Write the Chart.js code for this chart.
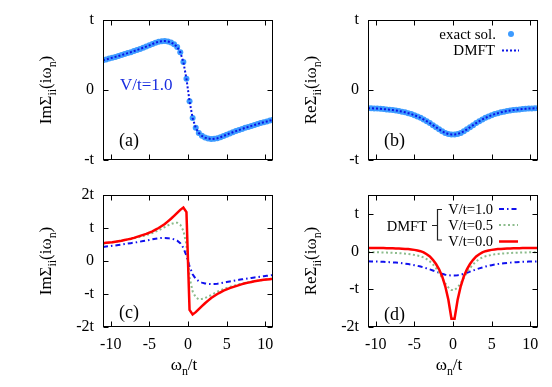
<!DOCTYPE html>
<html><head><meta charset="utf-8">
<script src="https://cdn.jsdelivr.net/npm/chart.js@4.4.1/dist/chart.umd.min.js"></script>
<style>
html,body{margin:0;padding:0;background:#fff;overflow:hidden;}
#wrap{position:relative;width:552px;height:387px;overflow:hidden;background:#fff;}
canvas{position:absolute;left:0;top:0;}
</style></head><body>
<div id="wrap">
<canvas id="ca" width="552" height="387"></canvas>
<canvas id="cb" width="552" height="387"></canvas>
<canvas id="cc" width="552" height="387"></canvas>
<canvas id="cd" width="552" height="387"></canvas>
</div>
<script>
// ---- data (Matsubara frequencies omega_n / t) ----
const omega = [-11.0,-10.6,-10.2,-9.8,-9.4,-9.0,-8.6,-8.2,-7.8,-7.4,-7.0,-6.6,-6.2,-5.8,-5.4,-5.0,-4.6,-4.2,-3.8,-3.4,-3.0,-2.6,-2.2,-1.8,-1.4,-1.0,-0.6,-0.2,
  0.2,0.6,1.0,1.4,1.8,2.2,2.6,3.0,3.4,3.8,4.2,4.6,5.0,5.4,5.8,6.2,6.6,7.0,7.4,7.8,8.2,8.6,9.0,9.4,9.8,10.2,10.6,11.0];
// V/t = 1.0
const imSigmaV10 = [0.426,0.437,0.449,0.461,0.473,0.486,0.499,0.513,0.527,0.541,0.556,0.571,0.587,0.603,0.62,0.638,0.657,0.675,0.69,0.698,0.70,0.693,0.68,0.655,0.615,0.54,0.40,0.16,
  -0.16,-0.40,-0.54,-0.615,-0.655,-0.68,-0.693,-0.70,-0.698,-0.69,-0.675,-0.657,-0.638,-0.62,-0.603,-0.587,-0.571,-0.556,-0.541,-0.527,-0.513,-0.499,-0.486,-0.473,-0.461,-0.449,-0.437,-0.426];
const reSigmaV10 = [-0.259,-0.261,-0.263,-0.266,-0.269,-0.273,-0.277,-0.281,-0.287,-0.293,-0.30,-0.309,-0.319,-0.331,-0.344,-0.36,-0.378,-0.398,-0.421,-0.446,-0.473,-0.502,-0.532,-0.562,-0.59,-0.613,-0.628,-0.635,
  -0.635,-0.628,-0.613,-0.59,-0.562,-0.532,-0.502,-0.473,-0.446,-0.421,-0.398,-0.378,-0.36,-0.344,-0.331,-0.319,-0.309,-0.30,-0.293,-0.287,-0.281,-0.277,-0.273,-0.269,-0.266,-0.263,-0.261,-0.259];
// V/t = 0.5
const imSigmaV05 = [0.53,0.542,0.554,0.567,0.581,0.596,0.612,0.629,0.647,0.666,0.686,0.707,0.731,0.757,0.785,0.815,0.85,0.89,0.93,0.98,1.03,1.08,1.12,1.15,1.16,1.10,0.92,0.50,
  -0.50,-0.92,-1.10,-1.16,-1.15,-1.12,-1.08,-1.03,-0.98,-0.93,-0.89,-0.85,-0.815,-0.785,-0.757,-0.731,-0.707,-0.686,-0.666,-0.647,-0.629,-0.612,-0.596,-0.581,-0.567,-0.554,-0.542,-0.53];
const reSigmaV05 = [-0.015,-0.016,-0.018,-0.020,-0.022,-0.024,-0.027,-0.030,-0.034,-0.038,-0.043,-0.048,-0.055,-0.062,-0.072,-0.09,-0.105,-0.125,-0.155,-0.20,-0.26,-0.34,-0.44,-0.56,-0.70,-0.84,-0.95,-1.02,
  -1.02,-0.95,-0.84,-0.70,-0.56,-0.44,-0.34,-0.26,-0.20,-0.155,-0.125,-0.105,-0.09,-0.072,-0.062,-0.055,-0.048,-0.043,-0.038,-0.034,-0.030,-0.027,-0.024,-0.022,-0.020,-0.018,-0.016,-0.015];
// V/t = 0.0
const imSigmaV00 = [0.54,0.55,0.56,0.57,0.585,0.60,0.615,0.635,0.655,0.675,0.70,0.73,0.76,0.79,0.82,0.86,0.90,0.95,1.00,1.06,1.12,1.20,1.28,1.37,1.46,1.55,1.62,1.48,
  -1.48,-1.62,-1.55,-1.46,-1.37,-1.28,-1.20,-1.12,-1.06,-1.00,-0.95,-0.90,-0.86,-0.82,-0.79,-0.76,-0.73,-0.70,-0.675,-0.655,-0.635,-0.615,-0.60,-0.585,-0.57,-0.56,-0.55,-0.54];
const reSigmaV00 = [0.098,0.097,0.096,0.095,0.094,0.092,0.09,0.088,0.086,0.083,0.08,0.075,0.07,0.065,0.055,0.045,0.03,0.01,-0.02,-0.07,-0.13,-0.22,-0.33,-0.47,-0.66,-0.92,-1.28,-1.78,
  -1.78,-1.28,-0.92,-0.66,-0.47,-0.33,-0.22,-0.13,-0.07,-0.02,0.01,0.03,0.045,0.055,0.065,0.07,0.075,0.08,0.083,0.086,0.088,0.09,0.092,0.094,0.095,0.096,0.097,0.098];

const xTicks = [-10,-5,0,5,10];
const xTickLabels = ['-10','-5','0','5','10'];
const yTicksAB = [-1,0,1];
const yTickLabelsAB = ['-t','0','t'];
const yTicksC = [-2,-1,0,1,2];
const yTickLabelsC = ['-2t','-t','0','t','2t'];
const yTicksD = [-2,-1,0,1];
const yTickLabelsD = ['-2t','-t','0','t'];
const legendB = ['exact sol.','DMFT'];
const legendD = ['V/t=1.0','V/t=0.5','V/t=0.0'];
const legendDGroup = 'DMFT';
const annotationA = 'V/t=1.0';

// ---- styling ----
const SERIF = '"Liberation Serif","Times New Roman","DejaVu Serif",serif';
Chart.defaults.font.family = SERIF;
Chart.defaults.color = '#000';
const C_EXACT = '#3d9bff', C_DMFT = '#0a14e6', C_RED = '#ff0000', C_GREEN = '#8cbc8c', C_BLUE = '#1010ee';

function pts(arr){ return omega.map((w,i)=>({x:w,y:arr[i]})); }

function drawRuns(ctx, runs, size){
  let x = 0;
  runs.forEach(r=>{
    const s = r.sub ? size*0.7 : size;
    ctx.font = s + 'px ' + SERIF;
    ctx.fillText(r.t, x, r.sub ? size*0.28 : 0);
    x += ctx.measureText(r.t).width;
  });
  return x;
}
function runsWidth(ctx, runs, size){
  let w = 0;
  runs.forEach(r=>{ ctx.font = (r.sub?size*0.7:size)+'px '+SERIF; w += ctx.measureText(r.t).width; });
  return w;
}

function makeChart(id, cfg){
  const A = cfg.area;
  const frame = {
    id:'frame'+id,
    afterDatasetsDraw(chart){
      const {ctx, chartArea:a, scales:{x,y}} = chart;
      ctx.save();
      ctx.strokeStyle = '#000'; ctx.lineWidth = 1; ctx.setLineDash([]);
      const l = Math.round(a.left)+0.5, r = Math.round(a.right)-0.5, t = Math.round(a.top)+0.5, b = Math.round(a.bottom)-0.5;
      ctx.strokeRect(l, t, r-l, b-t);
      ctx.beginPath();
      xTicks.forEach(v=>{ const p = Math.round(x.getPixelForValue(v))+0.5; ctx.moveTo(p,b); ctx.lineTo(p,b-5); ctx.moveTo(p,t); ctx.lineTo(p,t+5); });
      cfg.yTicks.forEach(v=>{ const p = Math.round(y.getPixelForValue(v))+0.5; ctx.moveTo(l,p); ctx.lineTo(l+5,p); ctx.moveTo(r,p); ctx.lineTo(r-5,p); });
      ctx.stroke();
      ctx.restore();
    },
    afterDraw(chart){
      const {ctx, chartArea:a} = chart;
      ctx.save();
      ctx.fillStyle = '#000';
      ctx.textAlign = 'left'; ctx.textBaseline = 'alphabetic';
      const yr = cfg.yTitle;
      const yw = runsWidth(ctx, yr, 17);
      ctx.save();
      ctx.translate(a.left - 52, (a.top + a.bottom)/2);
      ctx.rotate(-Math.PI/2);
      ctx.translate(-yw/2, 0);
      drawRuns(ctx, yr, 17);
      ctx.restore();
      if (cfg.showX){
        const xr = [{t:'ω'},{t:'n',sub:true},{t:'/t'}];
        const xw = runsWidth(ctx, xr, 17);
        ctx.save();
        ctx.translate((a.left+a.right)/2 - 4 - xw/2, 370);
        drawRuns(ctx, xr, 17);
        ctx.restore();
      }
      ctx.font = '18px ' + SERIF;
      ctx.fillText(cfg.panel, a.left + 16, cfg.panelY);
      if (cfg.extra) cfg.extra(chart, ctx, a);
      ctx.restore();
    }
  };
  return new Chart(document.getElementById(id), {
    type:'scatter',
    data:{datasets:cfg.datasets},
    options:{
      responsive:false, animation:false, devicePixelRatio:1,
      layout:{padding:{left:A.L-40, top:A.T, right:552-A.R, bottom:387-A.B-40}},
      plugins:{legend:{display:false}, tooltip:{enabled:false}},
      elements:{line:{tension:0}},
      scales:{
        x:{type:'linear', min:-11, max:11,
          afterBuildTicks:s=>{ s.ticks = xTicks.map(v=>({value:v})); },
          afterFit:s=>{ s.height = 40; },
          ticks:{display:cfg.showX, autoSkip:false, maxRotation:0, padding:8, font:{size:16, family:SERIF}, color:'#000',
            callback:(v)=>xTickLabels[xTicks.indexOf(v)]},
          grid:{display:false, drawTicks:false}, border:{display:false}},
        y:{type:'linear', min:cfg.yMin, max:cfg.yMax,
          afterBuildTicks:s=>{ s.ticks = cfg.yTicks.map(v=>({value:v})); },
          afterFit:s=>{ s.width = 40; },
          ticks:{autoSkip:false, padding:9, font:{size:16, family:SERIF}, color:'#000',
            callback:(v)=>cfg.yLabels[cfg.yTicks.indexOf(v)]},
          grid:{display:false, drawTicks:false}, border:{display:false}}
      }
    },
    plugins:[frame]
  });
}

function dmftLine(arr){ return {data:pts(arr), showLine:true, borderColor:C_DMFT, borderWidth:2, borderDash:[2,2], pointRadius:0, clip:0}; }
function exactPts(arr){ return {data:pts(arr), showLine:false, pointRadius:3, pointBackgroundColor:C_EXACT, pointBorderWidth:0, borderColor:C_EXACT, clip:0}; }
function redLine(arr){ return {data:pts(arr), showLine:true, borderColor:C_RED, borderWidth:2.5, pointRadius:0, clip:0}; }
function greenLine(arr){ return {data:pts(arr), showLine:true, borderColor:C_GREEN, borderWidth:2, borderDash:[2,2.5], pointRadius:0, clip:0}; }
function blueLine(arr){ return {data:pts(arr), showLine:true, borderColor:C_BLUE, borderWidth:2, borderDash:[5,3,1.5,3], pointRadius:0, clip:0}; }

const imTitle = [{t:'ImΣ'},{t:'ii',sub:true},{t:'(iω'},{t:'n',sub:true},{t:')'}];
const reTitle = [{t:'ReΣ'},{t:'ii',sub:true},{t:'(iω'},{t:'n',sub:true},{t:')'}];

makeChart('ca', {area:{L:103,T:20,R:273,B:160}, yMin:-1, yMax:1, yTicks:yTicksAB, yLabels:yTickLabelsAB, showX:false,
  yTitle:imTitle, panel:'(a)', panelY:146,
  datasets:[dmftLine(imSigmaV10), exactPts(imSigmaV10)],
  extra:(chart,ctx,a)=>{ ctx.fillStyle='#1a2ee0'; ctx.font='17px '+SERIF; ctx.fillText(annotationA, 120, 90); }
});
makeChart('cb', {area:{L:368,T:20,R:538,B:160}, yMin:-1, yMax:1, yTicks:yTicksAB, yLabels:yTickLabelsAB, showX:false,
  yTitle:reTitle, panel:'(b)', panelY:146,
  datasets:[dmftLine(reSigmaV10), exactPts(reSigmaV10)],
  extra:(chart,ctx,a)=>{
    ctx.font='15px '+SERIF; ctx.textAlign='right'; ctx.fillStyle='#000';
    ctx.fillText(legendB[0], 496, 38.5);
    ctx.fillText(legendB[1], 495, 55);
    ctx.fillStyle=C_EXACT; ctx.beginPath(); ctx.arc(511, 34, 3, 0, Math.PI*2); ctx.fill();
    ctx.strokeStyle=C_DMFT; ctx.lineWidth=2; ctx.setLineDash([2,2]); ctx.beginPath(); ctx.moveTo(502,50.5); ctx.lineTo(519,50.5); ctx.stroke();
  }
});
makeChart('cc', {area:{L:103,T:195,R:273,B:327}, yMin:-2, yMax:2, yTicks:yTicksC, yLabels:yTickLabelsC, showX:true,
  yTitle:imTitle, panel:'(c)', panelY:318,
  datasets:[redLine(imSigmaV00), greenLine(imSigmaV05), blueLine(imSigmaV10)]
});
makeChart('cd', {area:{L:368,T:195,R:538,B:327}, yMin:-2, yMax:1.5, yTicks:yTicksD, yLabels:yTickLabelsD, showX:true,
  yTitle:reTitle, panel:'(d)', panelY:320,
  datasets:[redLine(reSigmaV00), greenLine(reSigmaV05), blueLine(reSigmaV10)],
  extra:(chart,ctx,a)=>{
    ctx.font='14.5px '+SERIF; ctx.textAlign='right'; ctx.fillStyle='#000';
    const ys=[213.5,229.5,246];
    legendD.forEach((s,i)=>ctx.fillText(s, 493, ys[i]));
    ctx.fillText(legendDGroup, 427, 231);
    const sy=[209,225,241.5];
    const styles=[[C_BLUE,2,[5,3,1.5,3]],[C_GREEN,2,[2,2.5]],[C_RED,2.5,[]]];
    styles.forEach((st,i)=>{ ctx.strokeStyle=st[0]; ctx.lineWidth=st[1]; ctx.setLineDash(st[2]); ctx.beginPath(); ctx.moveTo(499,sy[i]); ctx.lineTo(518,sy[i]); ctx.stroke(); });
    ctx.setLineDash([]); ctx.strokeStyle='#222'; ctx.lineWidth=1.2;
    ctx.beginPath(); ctx.moveTo(442,209.5); ctx.lineTo(437.5,209.5); ctx.lineTo(437.5,240); ctx.lineTo(442,240);
    ctx.moveTo(437.5,225.5); ctx.lineTo(432,225.5); ctx.stroke();
  }
});
</script>
</body></html>
